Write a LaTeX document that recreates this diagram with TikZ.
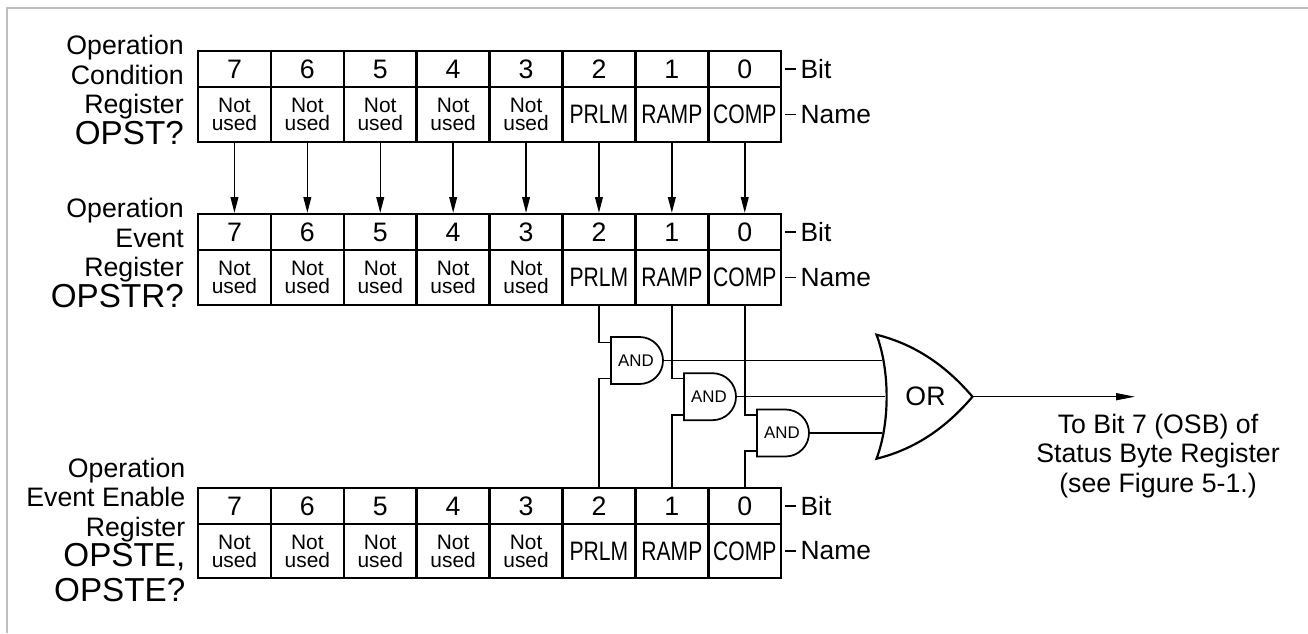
\documentclass[tikz,border=0pt]{standalone}
\usepackage{fontspec}
\setmainfont{Liberation Sans}
\newfontfamily\narrowfont[FakeStretch=0.79]{Liberation Sans}
\usetikzlibrary{arrows.meta, calc, positioning}

\tikzset{
    cellbox/.style={draw, line width=1.25pt, minimum width=41.3pt, inner sep=0pt, align=center},
    bitcell/.style={cellbox, minimum height=20.5pt, font=\fontsize{15.2}{15}\selectfont},
    namecell/.style={cellbox, minimum height=31pt, font=\fontsize{11.9}{10.2}\selectfont},
    widecell/.style={cellbox, minimum height=31pt, font=\narrowfont\fontsize{15.2}{15}\selectfont},
    sidelabel/.style={anchor=west, inner sep=2.2pt, font=\fontsize{15}{15}\selectfont},
    reglabel/.style={anchor=east, inner sep=0pt, align=right, font=\fontsize{15.2}{16.6}\selectfont},
    gatelabel/.style={inner sep=0pt, font=\fontsize{9.6}{10}\selectfont},
    wire/.style={line width=0.85pt},
    gateline/.style={line width=1pt, fill=white},
}

\begin{document}
\begin{tikzpicture}[line width=0.85pt]
        \useasboundingbox (0,0) rectangle (26.16,12.66);
        % Frame
        \draw[gray!50, line width=0.6pt] (0.14,0) -- (0.14,12.5) -- (26.16,12.5);

        % Register rows
        \foreach \reg/\ybit/\yname in {cond/11.28/10.37, evt/8.02/7.11, en/2.54/1.64} {
            \foreach \b/\nam [count=\i from 0] in {7/Not used, 6/Not used, 5/Not used, 4/Not used, 3/Not used, 2/PRLM, 1/RAMP, 0/COMP} {
                \node[bitcell] (\reg\b bit) at ({3.96+1.458*(\i+0.5)},\ybit) {\b};
                \ifnum\i<5
                    \node[namecell] (\reg\b name) at ({3.96+1.458*(\i+0.5)},\yname) {Not\\used};
                \else
                    \node[widecell] (\reg\b name) at ({3.96+1.458*(\i+0.5)},\yname) {\nam};
                \fi
            }
            \node[sidelabel] (\reg bitlabel) at (15.92,\ybit) {Bit};
            \node[sidelabel] (\reg namelabel) at (15.92,\yname) {Name};
            \draw[shorten <=1.7pt] (\reg0bit.east) -- (\reg bitlabel.west);
            \draw[shorten <=1.7pt] (\reg0name.east) -- (\reg namelabel.west);
        }

        % Register titles
        \node[reglabel] (condtitle) at (3.69,10.86) {Operation\\Condition\\Register\\[1pt]{\fontsize{18.9}{18}\selectfont OPST?}};
        \node[reglabel] (evttitle) at (3.69,7.6) {Operation\\Event\\Register\\[1pt]{\fontsize{18.9}{18}\selectfont OPSTR?}};
        \node[reglabel] (entitle) at (3.72,2.06) {Operation\hspace{0.6pt}\\Event Enable\\Register\hspace{0.6pt}\\[1pt]{\fontsize{18.9}{20}\selectfont OPSTE,}\hspace{0.6pt}\\[3pt]{\fontsize{18.9}{20}\selectfont OPSTE?}\hspace{0.6pt}};

        % Condition to event arrows
        \foreach \b in {7,6,...,0} {
            \draw[-{Triangle[length=9pt,width=4.4pt]}] (cond\b name.south) -- (evt\b bit.north);
        }

        % AND gates
        \foreach \g/\b/\xg/\yg in {a/2/12.22/5.45, b/1/13.68/4.726, c/0/15.14/4.0} {
            \draw[wire] (evt\b name.south) |- (\xg,\yg+0.363);
            \draw[wire] (en\b bit.north) |- (\xg,\yg-0.363);
            \draw[gateline] (\xg,\yg+0.47) -- ++(0.57,0) arc (90:-90:0.47) -- ++(-0.57,0) -- cycle;
            \node[gatelabel] (and\g) at (\xg+0.5,\yg) {AND};
            \coordinate (and\g out) at (\xg+1.04,\yg);
        }

        % OR gate
        \coordinate (orin1) at (17.63,5.45);
        \coordinate (orin2) at (17.7,4.726);
        \coordinate (orin3) at (17.63,4.0);
        \coordinate (orout) at (19.45,4.726);
        \coordinate (orend) at (22.7,4.726);
        \draw[wire] (andaout) -- (orin1);
        \draw[wire] (andbout) -- (orin2);
        \draw[wire] (andcout) -- (orin3);
        \draw[line width=1.25pt, fill=white] (17.53,5.966) .. controls (18.4,5.75) and (19.0,5.25) .. (19.45,4.726)
            .. controls (19.0,4.2) and (18.4,3.7) .. (17.53,3.486)
            .. controls (17.8,4.2) and (17.8,5.25) .. cycle;
        \node[inner sep=0pt, font=\fontsize{15.2}{15}\selectfont] (orgate) at (18.51,4.726) {OR};
        \draw[-{Triangle[length=10.8pt,width=4pt]}] (orout) -- (orend);

        % Output text
        \node[inner sep=0pt, align=center, font=\fontsize{15.2}{16.7}\selectfont] (outlabel) at (23.16,3.54) {To Bit 7 (OSB) of\\Status Byte Register\\(see Figure 5-1.)};
\end{tikzpicture}
\end{document}
